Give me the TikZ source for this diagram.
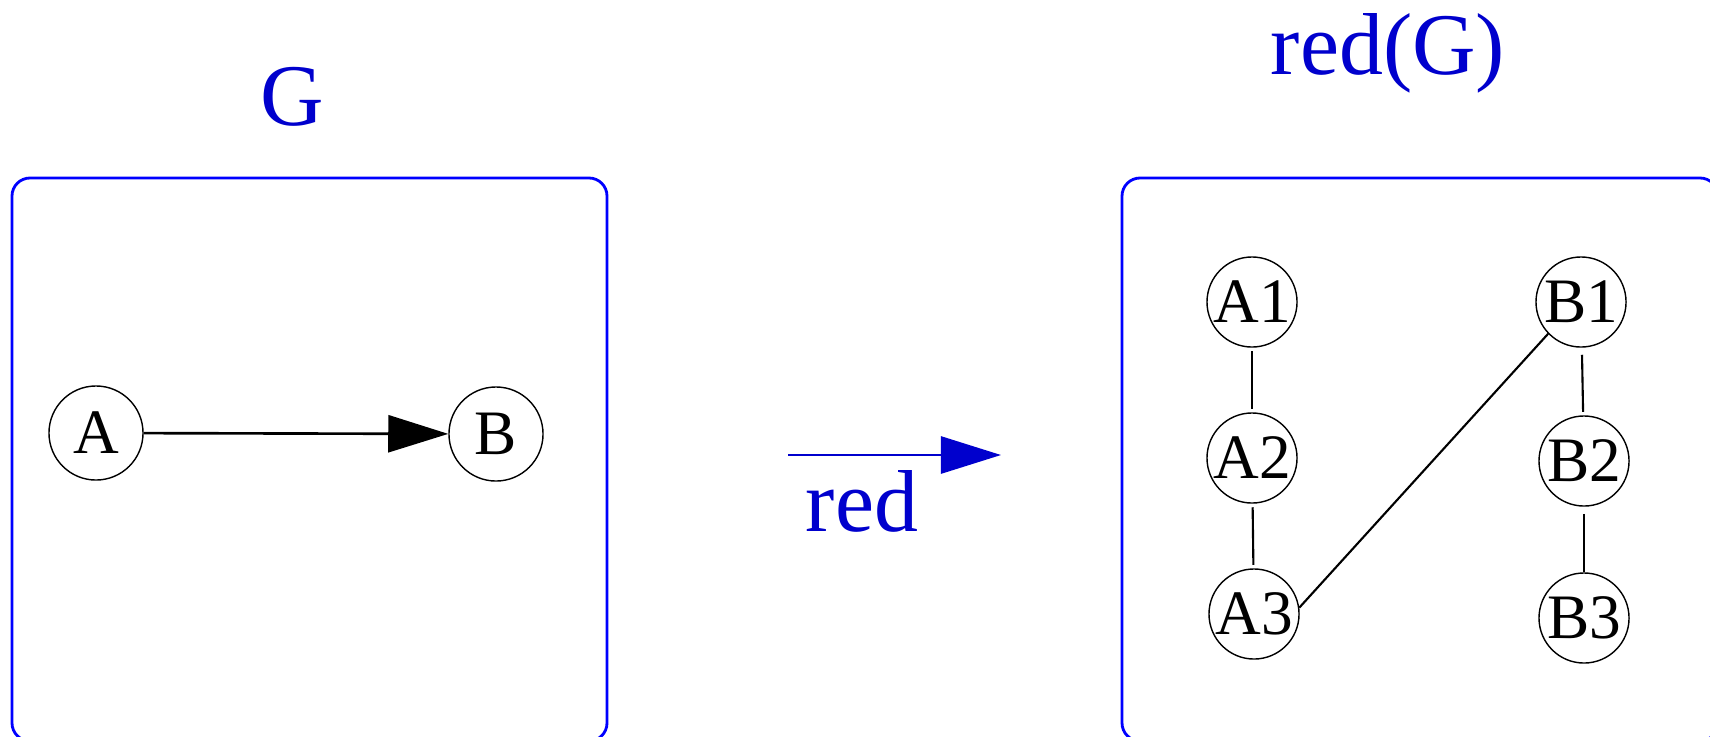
\documentclass[tikz,border=0pt]{standalone}
\usepackage{fontspec}
\setmainfont{Liberation Serif}
\usetikzlibrary{arrows.meta}
\definecolor{tblue}{RGB}{0,0,205}
\definecolor{bblue}{RGB}{0,0,255}
\begin{document}
\begin{tikzpicture}[x=0.01cm,y=-0.01cm,
  vtx/.style={circle,draw,line width=0.4pt,minimum size=0.9cm,inner sep=0pt,font=\fontsize{18}{20}\selectfont},
  bigvtx/.style={vtx,minimum size=0.94cm},
  frame/.style={draw=bblue,line width=0.8pt,rounded corners=0.18cm},
  title/.style={text=tblue,font=\fontsize{25}{30}\selectfont,inner sep=0pt,anchor=base},
  edge/.style={line width=0.6pt},
  bigarrow/.style={line width=0.75pt,-{Triangle[length=0.6cm,width=0.37cm]}}]
\path[use as bounding box,clip] (0,0) rectangle (1710,736);
\draw[frame] (12,178) rectangle (607,741);
\draw[frame] (1122,178) rectangle (1718,741);
% titles
\node[title] (tG) at (292,125) {G};
\node[title] (tRG) at (1388,74) {red(G)};
% left graph
\node[bigvtx] (A) at (96,433) {A};
\node[bigvtx] (B) at (496,434) {B};
\draw[bigarrow] (A) -- (B);
% middle arrow
\coordinate (m1) at (788,455);
\coordinate (m2) at (1001,455);
\draw[bigarrow,draw=tblue,fill=tblue] (m1) -- (m2);
\node[title] (lred) at (862,531) {red};
% right graph
\node[vtx] (A1) at (1252,302) {A1};
\node[vtx] (A2) at (1252,458) {A2};
\node[vtx] (A3) at (1254,614) {A3};
\node[vtx] (B1) at (1581,302) {B1};
\node[vtx] (B2) at (1584,461) {B2};
\node[vtx] (B3) at (1584,618) {B3};
\draw[edge,shorten <=1pt,shorten >=1pt] (A1) -- (A2);
\draw[edge,shorten <=1pt,shorten >=1pt] (A2) -- (A3);
\draw[edge,shorten <=2pt,shorten >=1pt] (B1) -- (B2);
\draw[edge,shorten <=2pt] (B2) -- (B3);
\draw[edge] (A3.8) -- (B1.224);
\end{tikzpicture}
\end{document}
